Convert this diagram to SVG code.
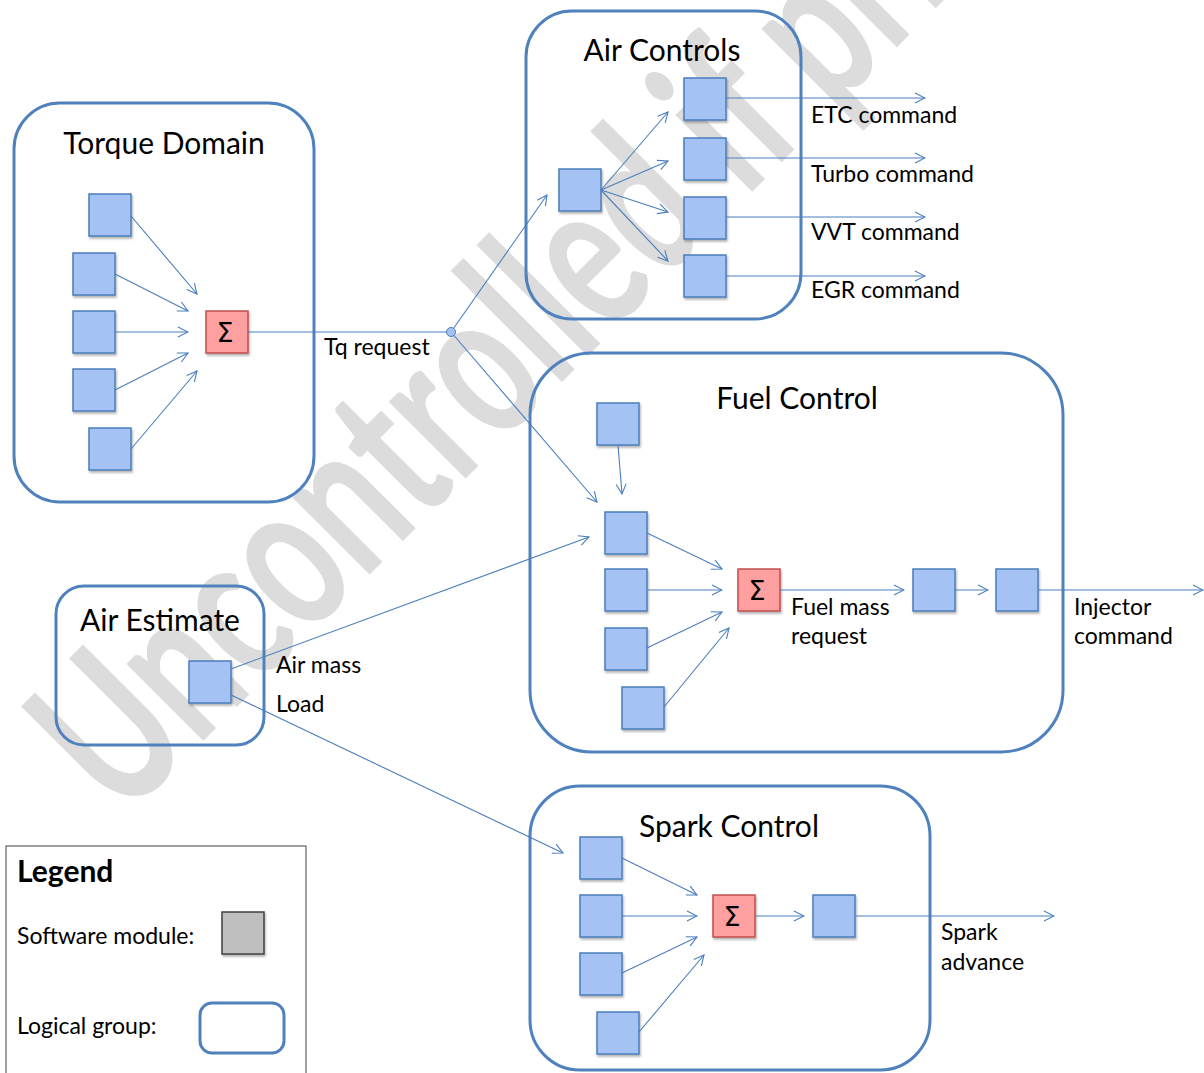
<svg xmlns="http://www.w3.org/2000/svg" width="1204" height="1073" viewBox="0 0 1204 1073">
<defs>
<style>
.grp{fill:none;stroke:#4f81bd;stroke-width:3}
.mod{fill:#a4c2f4;stroke:#4a7ebb;stroke-width:1.5;filter:url(#sh)}
.sum{fill:#ffa0a0;stroke:#c0504d;stroke-width:1.5;filter:url(#sh)}
.c{fill:none;stroke:#4a7ebb;stroke-width:1.1}
.a{marker-end:url(#arr)}
.t{font-family:Lato,"Liberation Sans",sans-serif;fill:#000}
.title{font-size:30px;text-anchor:middle}
.lbl{font-size:23px}
.sig{font-family:"DejaVu Sans",sans-serif;font-size:27px;text-anchor:middle}
.wm{font-family:Lato,"Liberation Sans",sans-serif;font-weight:bold;font-size:146px;fill:#dcdcdc}
</style>
<marker id="arr" markerUnits="userSpaceOnUse" viewBox="0 0 12 12" refX="11" refY="6" markerWidth="12" markerHeight="12" orient="auto">
<path d="M1,1 L11,6 L1,11" fill="none" stroke="#4a7ebb" stroke-width="1.1"/>
</marker>
<filter id="sh" x="-20%" y="-20%" width="150%" height="150%">
<feDropShadow dx="1" dy="2" stdDeviation="1.2" flood-color="#000" flood-opacity="0.3"/>
</filter>
</defs>
<rect x="0" y="0" width="1204" height="1073" fill="#fff"/>
<text class="wm" transform="translate(122,822) rotate(-45) scale(1,1.45)">Uncontrolled if printed</text>

<g id="torque-domain">
<rect class="grp" x="14" y="103" width="300" height="399" rx="46"/>
<text class="t title" x="164" y="154">Torque Domain</text>
<rect class="mod" x="89" y="194" width="42" height="42"/>
<rect class="mod" x="73" y="253" width="42" height="42"/>
<rect class="mod" x="73" y="311" width="42" height="42"/>
<rect class="mod" x="73" y="369" width="42" height="42"/>
<rect class="mod" x="89" y="428" width="42" height="42"/>
<rect class="sum" x="206" y="311" width="42" height="42"/>
<text class="sig" x="225" y="342">Σ</text>
</g>

<g id="air-controls">
<rect class="grp" x="526" y="11" width="275" height="308" rx="46"/>
<text class="t title" x="662" y="61">Air Controls</text>
<rect class="mod" x="559" y="169" width="42" height="42"/>
<rect class="mod" x="684" y="78" width="42" height="42"/>
<rect class="mod" x="684" y="138" width="42" height="42"/>
<rect class="mod" x="684" y="197" width="42" height="42"/>
<rect class="mod" x="684" y="255" width="42" height="42"/>
</g>

<g id="air-estimate">
<rect class="grp" x="56" y="586" width="208" height="159" rx="28"/>
<text class="t title" x="160" y="631">Air Estimate</text>
<rect class="mod" x="189" y="661" width="42" height="42"/>
</g>

<g id="fuel-control">
<rect class="grp" x="530" y="353" width="533" height="399" rx="62"/>
<text class="t title" x="797" y="409">Fuel Control</text>
<rect class="mod" x="597" y="403" width="42" height="42"/>
<rect class="mod" x="605" y="512" width="42" height="42"/>
<rect class="mod" x="605" y="569" width="42" height="42"/>
<rect class="mod" x="605" y="628" width="42" height="42"/>
<rect class="mod" x="622" y="687" width="42" height="42"/>
<rect class="sum" x="738" y="569" width="42" height="42"/>
<text class="sig" x="757" y="600">Σ</text>
<rect class="mod" x="913" y="569" width="42" height="42"/>
<rect class="mod" x="996" y="569" width="42" height="42"/>
</g>

<g id="spark-control">
<rect class="grp" x="530" y="786" width="400" height="284" rx="50"/>
<text class="t title" x="729" y="837">Spark Control</text>
<rect class="mod" x="580" y="837" width="42" height="42"/>
<rect class="mod" x="580" y="895" width="42" height="42"/>
<rect class="mod" x="580" y="953" width="42" height="42"/>
<rect class="mod" x="597" y="1012" width="42" height="42"/>
<rect class="sum" x="713" y="895" width="42" height="42"/>
<text class="sig" x="732" y="926">Σ</text>
<rect class="mod" x="813" y="895" width="42" height="42"/>
</g>

<g id="connectors">
<line class="c a" x1="131" y1="216" x2="197" y2="294"/>
<line class="c a" x1="115" y1="274" x2="188" y2="311"/>
<line class="c a" x1="115" y1="332" x2="188" y2="332"/>
<line class="c a" x1="115" y1="390" x2="188" y2="353"/>
<line class="c a" x1="131" y1="449" x2="197" y2="371"/>
<line class="c" x1="248" y1="332" x2="451" y2="332"/>
<line class="c a" x1="451" y1="332" x2="547" y2="195"/>
<line class="c a" x1="451" y1="332" x2="597" y2="502"/>
<circle cx="451" cy="332" r="4.5" fill="#a4c2f4" stroke="#4a7ebb" stroke-width="1"/>
<line class="c a" x1="601" y1="190" x2="668" y2="112"/>
<line class="c a" x1="601" y1="190" x2="668" y2="161"/>
<line class="c a" x1="601" y1="190" x2="668" y2="212"/>
<line class="c a" x1="601" y1="190" x2="668" y2="261"/>
<line class="c a" x1="726" y1="98" x2="925" y2="98"/>
<line class="c a" x1="726" y1="158" x2="925" y2="158"/>
<line class="c a" x1="726" y1="217" x2="925" y2="217"/>
<line class="c a" x1="726" y1="276" x2="925" y2="276"/>
<line class="c a" x1="231" y1="669" x2="589" y2="537"/>
<line class="c a" x1="231" y1="695" x2="563" y2="853"/>
<line class="c a" x1="618" y1="445" x2="622" y2="494"/>
<line class="c a" x1="647" y1="533" x2="722" y2="569"/>
<line class="c a" x1="647" y1="590" x2="722" y2="590"/>
<line class="c a" x1="647" y1="648" x2="722" y2="612"/>
<line class="c a" x1="664" y1="707" x2="729" y2="628"/>
<line class="c a" x1="780" y1="590" x2="904" y2="590"/>
<line class="c a" x1="955" y1="590" x2="988" y2="590"/>
<line class="c a" x1="1038" y1="590" x2="1203" y2="590"/>
<line class="c a" x1="622" y1="858" x2="697" y2="895"/>
<line class="c a" x1="622" y1="916" x2="697" y2="916"/>
<line class="c a" x1="622" y1="973" x2="697" y2="937"/>
<line class="c a" x1="639" y1="1032" x2="704" y2="955"/>
<line class="c a" x1="755" y1="916" x2="804" y2="916"/>
<line class="c a" x1="856" y1="916" x2="1054" y2="916"/>
</g>

<g id="labels">
<text class="t lbl" x="324" y="355">Tq request</text>
<text class="t lbl" x="811" y="123">ETC command</text>
<text class="t lbl" x="811" y="182">Turbo command</text>
<text class="t lbl" x="811" y="240">VVT command</text>
<text class="t lbl" x="811" y="298">EGR command</text>
<text class="t lbl" x="276" y="673">Air mass</text>
<text class="t lbl" x="276" y="712">Load</text>
<text class="t lbl" x="791" y="615">Fuel mass</text>
<text class="t lbl" x="791" y="644">request</text>
<text class="t lbl" x="1074" y="615">Injector</text>
<text class="t lbl" x="1074" y="644">command</text>
<text class="t lbl" x="941" y="940">Spark</text>
<text class="t lbl" x="941" y="970">advance</text>
</g>

<g id="legend">
<rect x="6" y="846" width="300" height="240" fill="#fff" stroke="#404040" stroke-width="1"/>
<text class="t" x="17" y="882" font-size="30" font-weight="bold">Legend</text>
<text class="t lbl" x="17" y="944">Software module:</text>
<rect x="222" y="912" width="42" height="42" fill="#bfbfbf" stroke="#404040" stroke-width="1.5" filter="url(#sh)"/>
<text class="t lbl" x="17" y="1034">Logical group:</text>
<rect class="grp" x="200" y="1003" width="84" height="50" rx="12"/>
</g>
</svg>
